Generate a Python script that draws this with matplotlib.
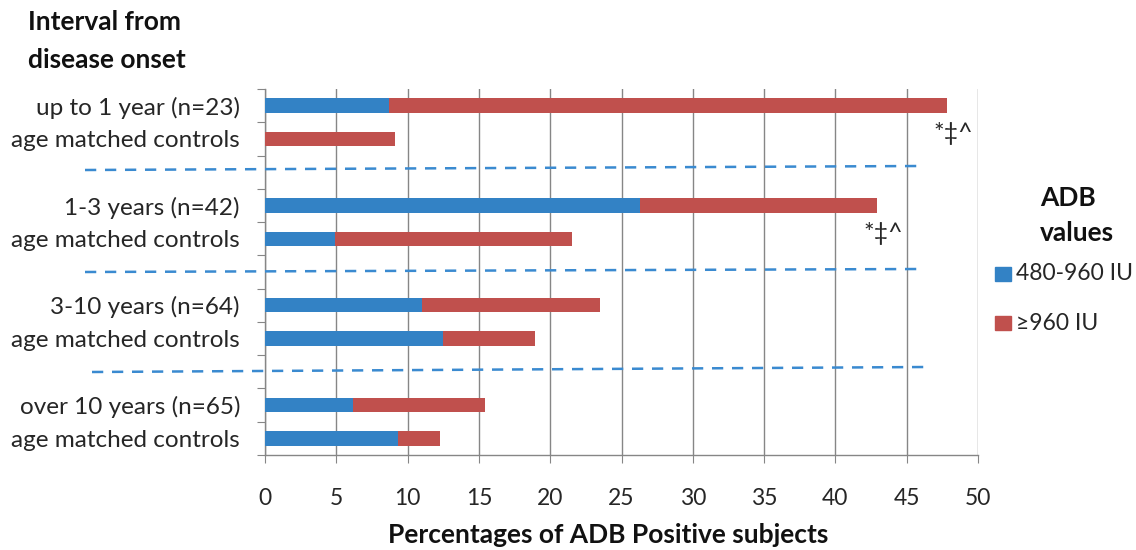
import matplotlib
matplotlib.use("Agg")
import matplotlib.pyplot as plt
from matplotlib.lines import Line2D
import numpy as np

plt.rcParams['font.family'] = ['Lato', 'DejaVu Sans']

categories = ["up to 1 year (n=23)", "age matched controls", "",
              "1-3 years (n=42)", "age matched controls", "",
              "3-10 years (n=64)", "age matched controls", "",
              "over 10 years (n=65)", "age matched controls"]
low_vals = [8.7, 0.0, np.nan, 26.3, 4.9, np.nan, 11.0, 12.5, np.nan, 6.2, 9.3]   # 480-960 IU
high_vals = [39.1, 9.1, np.nan, 16.6, 16.6, np.nan, 12.5, 6.4, np.nan, 9.2, 3.0]  # >=960 IU
x_ticks = [0, 5, 10, 15, 20, 25, 30, 35, 40, 45, 50]
series_names = ["480-960 IU", "\u2265960 IU"]
annot_rows = [0, 3]
annot_text = "*\u2021^"

blue = "#3382C5"
red = "#C0504D"
txt = "#262626"

W, H = 1136, 550
fig = plt.figure(figsize=(W / 100, H / 100), dpi=100)
ax = fig.add_axes([265 / W, 1 - 455 / H, (978 - 265) / W, (455 - 89) / H])

y = np.arange(len(categories))
low = np.array(low_vals)
high = np.array(high_vals)
ax.barh(y, low, height=0.43, color=blue, zorder=3)
ax.barh(y, high, left=low, height=0.43, color=red, zorder=3)

ax.set_xlim(0, 50)
ax.set_ylim(len(categories) - 0.5, -0.5)
ax.set_xticks(x_ticks)
ax.set_xticklabels([str(t) for t in x_ticks], fontsize=16.5, color=txt)
ax.set_yticks(np.arange(-0.5, len(categories), 1.0))
ax.set_yticklabels([])
ax.set_yticks(y, minor=True)
ax.set_yticklabels(categories, minor=True, fontsize=17.5, color=txt)
ax.tick_params(axis='y', which='minor', length=0, pad=18)
ax.tick_params(axis='y', which='major', length=6, color="#868686", direction='out')
ax.tick_params(axis='x', length=6, color="#868686", pad=18, direction='out')

ax.grid(axis='x', color="#868686", linewidth=1.0, zorder=0)
for s in ['top', 'right']:
    ax.spines[s].set_visible(False)
for s in ['left', 'bottom']:
    ax.spines[s].set_color("#868686")
    ax.spines[s].set_linewidth(1.0)

# annotations
for r in annot_rows:
    total = low[r] + high[r]
    ax.text(total + 0.45, r + 0.85, annot_text, fontsize=18, ha='center', va='center', color=txt)

# dashed separators (hand-drawn shapes in the original)
seps = [((85, 170), (920, 166)), ((85, 272), (922, 269)), ((92, 372), (927, 367))]
for (x0, y0), (x1, y1) in seps:
    fig.add_artist(Line2D([x0 / W, x1 / W], [1 - y0 / H, 1 - y1 / H], transform=fig.transFigure,
                          color="#3A8AD0", linewidth=1.8, linestyle=(0, (4.5, 3.5))))

# titles
fig.text(28 / W, 1 - 22 / H, "Interval from", fontsize=19, fontweight='bold', va='center', ha='left', color="#111111")
fig.text(28 / W, 1 - 60 / H, "disease onset", fontsize=19, fontweight='bold', va='center', ha='left', color="#111111")
fig.text(608 / W, 1 - 535 / H, "Percentages of ADB Positive subjects", fontsize=19, fontweight='bold',
         ha='center', va='center', color="#111111")

# legend
fig.text(1040 / W, 1 - 198 / H, "ADB", fontsize=19, fontweight='bold', ha='left', va='center', color="#111111")
fig.text(1040 / W, 1 - 233 / H, "values", fontsize=19, fontweight='bold', ha='left', va='center', color="#111111")
legend_y = [274, 323]
for name, col, ly in zip(series_names, [blue, red], legend_y):
    fig.patches.append(plt.Rectangle((995 / W, 1 - (ly + 7) / H), 16 / W, 14 / H, transform=fig.transFigure,
                                     color=col))
    fig.text(1016 / W, 1 - ly / H, name, fontsize=16.5, ha='left', va='center', color=txt)

fig.savefig("out.png", dpi=100)
